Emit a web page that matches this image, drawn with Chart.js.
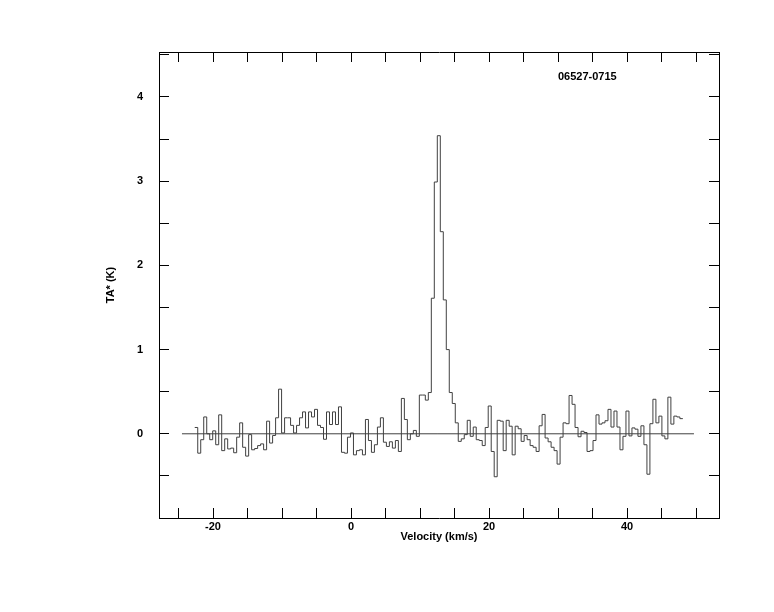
<!DOCTYPE html>
<html>
<head>
<meta charset="utf-8">
<title>06527-0715</title>
<script src="https://cdn.jsdelivr.net/npm/chart.js@4/dist/chart.umd.min.js"></script>
<style>
  html, body { margin: 0; padding: 0; background: #fff; }
  #wrap { width: 774px; height: 612px; }
</style>
</head>
<body>
<div id="wrap"><canvas id="spectrum" width="774" height="612"></canvas></div>
<script>
// 06527-0715 spectrum

const sourceName = '06527-0715';

// spectral axis: left edge of first channel and channel width (km/s)
const chanStart = -22.65;
const chanWidth = 0.434;

// antenna temperature per channel (K)
const taValues = [
  0.075, -0.23, -0.07, 0.20, 0.00, -0.07, 0.035, -0.13, 0.225, -0.20,
  -0.06, -0.18, -0.17, -0.225, -0.04, 0.13, -0.16, -0.265, -0.01, -0.19,
  -0.175, -0.14, -0.12, -0.19, 0.15, -0.11, -0.02, 0.19, 0.53, 0.01,
  0.19, 0.19, 0.10, 0.01, 0.10, 0.19, 0.26, 0.07, 0.26, 0.20,
  0.29, 0.10, 0.075, -0.065, 0.26, 0.11, 0.26, 0.11, 0.32, -0.22,
  -0.23, -0.04, 0.01, -0.25, -0.20, -0.19, -0.25, 0.17, -0.08, -0.22,
  -0.13, 0.08, 0.19, -0.10, -0.15, -0.095, -0.17, -0.08, -0.21, 0.42,
  0.17, -0.07, 0.00, 0.04, -0.03, 0.46, 0.46, 0.40, 0.49, 1.61,
  2.99, 3.54, 2.40, 1.59, 1.00, 0.49, 0.36, 0.13, -0.09, -0.06,
  -0.01, 0.16, -0.03, 0.08, -0.07, -0.08, -0.14, 0.075, 0.33, -0.21,
  -0.51, 0.16, 0.15, -0.20, 0.16, 0.09, -0.25, 0.09, 0.06, -0.09,
  -0.02, -0.07, -0.14, -0.16, -0.21, 0.095, 0.23, -0.05, -0.095, -0.16,
  -0.20, -0.36, -0.04, 0.13, 0.12, 0.455, 0.35, 0.075, -0.035, 0.03,
  0.015, -0.21, -0.20, -0.08, 0.225, 0.115, 0.13, 0.155, 0.29, 0.08,
  0.27, 0.08, -0.19, -0.03, 0.27, -0.025, 0.07, 0.055, -0.03, 0.095,
  -0.13, -0.48, 0.12, 0.41, 0.13, 0.21, -0.025, -0.06, 0.435, 0.115,
  0.21, 0.20, 0.18
];

// zero baseline (km/s, K)
const baseVel = [-24.5, 49.7];
const baseTa = [0, 0];

// axis ranges and ticks
const velRange = [-27.83, 53.33];
const taRange = [-1, 4.534];
const velStep = 5;
const velLabelStep = 20;
const taStep = 0.5;

const ink = '#000';
const lineInk = '#404040';

Chart.defaults.font.family = '"Liberation Sans", Arial, Helvetica, sans-serif';
Chart.defaults.font.size = 11;
Chart.defaults.font.weight = 'bold';
Chart.defaults.color = ink;

// histogram style: one point per channel left edge, plus closing right edge
const specPoints = taValues.map((t, i) => ({ x: chanStart + i * chanWidth, y: t }));
specPoints.push({ x: chanStart + taValues.length * chanWidth, y: taValues[taValues.length - 1] });
const basePoints = baseVel.map((v, i) => ({ x: v, y: baseTa[i] }));

function axis(range, step, pos, size, extra) {
  const horiz = pos === 'top' || pos === 'bottom';
  return Object.assign({
    type: 'linear',
    position: pos,
    min: range[0],
    max: range[1],
    ticks: { stepSize: step, autoSkip: false, includeBounds: false, maxRotation: 0, display: false },
    grid: { drawOnChartArea: false, drawTicks: true, tickLength: -10, color: ink, lineWidth: 1 },
    border: { display: true, color: ink, width: 1 },
    afterFit: s => { if (horiz) s.height = size; else s.width = size; }
  }, extra || {});
}

const sourceLabel = {
  id: 'sourceLabel',
  afterDraw(chart) {
    const { ctx, chartArea } = chart;
    ctx.save();
    ctx.font = 'bold 11px "Liberation Sans", Arial, sans-serif';
    ctx.fillStyle = ink;
    ctx.textAlign = 'left';
    ctx.textBaseline = 'middle';
    ctx.fillText(sourceName, chartArea.right - 161, chartArea.top + 25);
    ctx.restore();
  }
};

new Chart(document.getElementById('spectrum'), {
  type: 'line',
  data: {
    datasets: [
      {
        label: sourceName,
        data: specPoints,
        stepped: true,
        borderColor: lineInk,
        borderWidth: 1,
        pointRadius: 0,
        fill: false,
        xAxisID: 'x',
        yAxisID: 'y'
      },
      {
        label: 'baseline',
        data: basePoints,
        borderColor: lineInk,
        borderWidth: 1,
        pointRadius: 0,
        fill: false,
        xAxisID: 'x',
        yAxisID: 'y'
      }
    ]
  },
  options: {
    responsive: false,
    devicePixelRatio: 1,
    animation: false,
    layout: { padding: 0 },
    plugins: { legend: { display: false }, tooltip: { enabled: false }, title: { display: false } },
    scales: {
      x: axis(velRange, velStep, 'bottom', 94, {
        ticks: {
          stepSize: velStep, autoSkip: false, includeBounds: false, maxRotation: 0,
          padding: 12, color: ink,
          callback: v => (v % velLabelStep === 0 ? v : '')
        },
        title: { display: true, text: 'Velocity (km/s)', color: ink, padding: { top: 0, bottom: 68 } }
      }),
      x2: axis(velRange, velStep, 'top', 52),
      y: axis(taRange, taStep, 'left', 159, {
        ticks: {
          stepSize: taStep, autoSkip: false, includeBounds: false,
          padding: 26, color: ink,
          callback: v => (Number.isInteger(v) && v >= 0 ? v : '')
        },
        title: { display: true, text: 'TA* (K)', color: ink, padding: { top: 104, bottom: 0 } }
      }),
      y2: axis(taRange, taStep, 'right', 55)
    }
  },
  plugins: [sourceLabel]
});
</script>
</body>
</html>
